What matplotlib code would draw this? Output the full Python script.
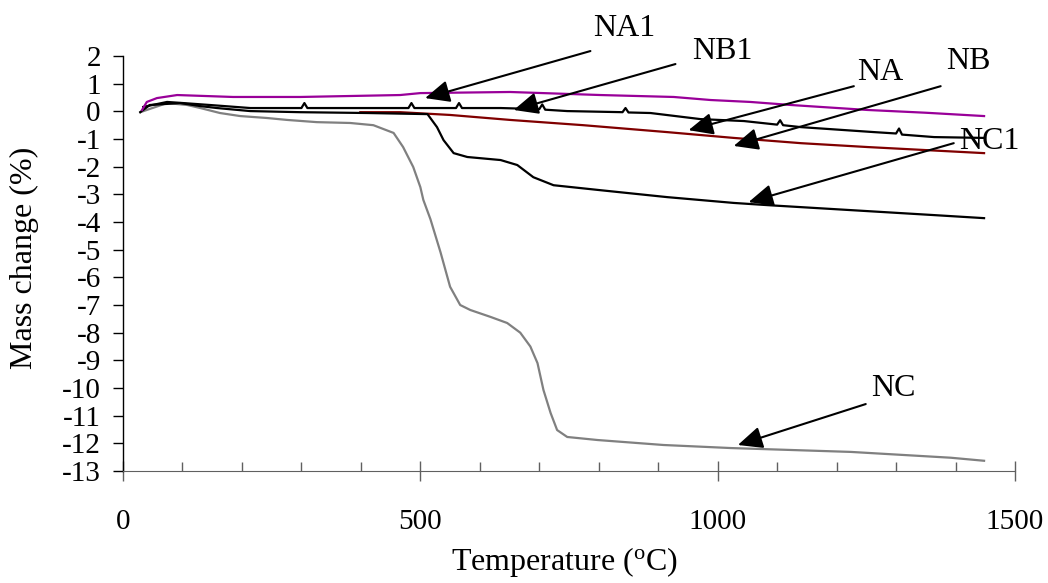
import numpy as np
import matplotlib.pyplot as plt
import matplotlib.ticker as ticker

plt.rcParams['font.family'] = ['Liberation Serif', 'DejaVu Serif']
plt.rcParams['axes.unicode_minus'] = False

# TG curves: temperature (C) vs mass change (%)
na1_t = [32, 40, 57, 91, 185, 298, 466, 500, 651, 803, 926, 988, 1055, 1123, 1173, 1252, 1350, 1448]
na1_m = [0.05, 0.34, 0.48, 0.59, 0.52, 0.52, 0.59, 0.66, 0.70, 0.59, 0.52, 0.41, 0.34, 0.23, 0.16, 0.05, -0.05, -0.17]

nb1_t = [34, 74, 101, 146, 214, 300, 305, 310, 411, 480, 485, 490, 560, 565, 570, 635, 700, 705, 710, 747,
         840, 845, 850, 887, 971, 1044, 1100, 1105, 1110, 1140, 1263, 1300, 1305, 1310, 1364, 1448]
nb1_m = [0.16, 0.34, 0.30, 0.23, 0.12, 0.12, 0.30, 0.12, 0.12, 0.12, 0.30, 0.12, 0.12, 0.30, 0.12, 0.12, 0.08, 0.25, 0.06, 0.01,
         -0.03, 0.12, -0.04, -0.06, -0.28, -0.35, -0.48, -0.32, -0.50, -0.57, -0.75, -0.80, -0.62, -0.84, -0.93, -0.96]

nb_t = [399, 466, 550, 651, 774, 915, 1027, 1140, 1252, 1448]
nb_m = [-0.03, -0.03, -0.13, -0.31, -0.50, -0.75, -0.96, -1.15, -1.29, -1.51]

nc1_t = [29, 45, 96, 130, 158, 214, 298, 411, 512, 528, 539, 556, 579, 635, 663, 690, 724, 803,
         915, 1027, 1084, 1224, 1364, 1448]
nc1_m = [-0.03, 0.23, 0.30, 0.19, 0.12, 0.01, -0.03, -0.06, -0.10, -0.57, -1.04, -1.51, -1.65, -1.76, -1.94, -2.38, -2.67, -2.85,
         -3.10, -3.31, -3.39, -3.57, -3.75, -3.86]

nc_t = [29, 74, 108, 130, 163, 197, 242, 276, 326, 382, 421, 455, 471, 488, 500, 505, 517, 534, 550, 567,
        584, 618, 646, 668, 685, 697, 707, 719, 730, 747, 798, 909, 1022, 1224, 1392, 1448]
nc_m = [-0.03, 0.30, 0.23, 0.12, -0.06, -0.17, -0.24, -0.31, -0.39, -0.42, -0.50, -0.78, -1.29, -2.01, -2.74, -3.2, -3.9, -5.1, -6.34, -7.0,
        -7.18, -7.43, -7.65, -8.0, -8.5, -9.1, -10.07, -10.9, -11.52, -11.77, -11.88, -12.06, -12.17, -12.31, -12.52, -12.63]

# annotation: label, text pos, arrow tail, arrow tip (data units)
labels = ['NA1', 'NB1', 'NA', 'NB', 'NC1', 'NC']
label_pos = [(843, 3.01), (1008, 2.18), (1274, 1.42), (1421, 1.82), (1456, -1.08), (1296, -10.0)]
arrow_tail = [(786, 2.18), (929, 1.71), (1229, 0.91), (1375, 0.91), (1397, -1.15), (1249, -10.58)]
arrow_tip = [(508, 0.48), (657, 0.05), (951, -0.68), (1027, -1.25), (1052, -3.28), (1034, -12.06)]

fig = plt.figure(figsize=(10.48, 5.83), dpi=100)
ax = fig.add_axes([0.1174, 0.1921, 0.8511, 0.7118])

ax.plot(nc_t, nc_m, color='#808080', lw=1.6)
ax.plot(nb_t, nb_m, color='#800000', lw=1.6)
ax.plot(nc1_t, nc1_m, color='black', lw=1.6)
ax.plot(nb1_t, nb1_m, color='black', lw=1.6)
ax.plot(na1_t, na1_m, color='#990099', lw=1.6)

for lab, tp, tail, tip in zip(labels, label_pos, arrow_tail, arrow_tip):
    ax.annotate('', xy=tip, xytext=tail, annotation_clip=False,
                arrowprops=dict(arrowstyle='-|>,head_length=1.0,head_width=0.45',
                                mutation_scale=15, color='black', lw=1.5,
                                shrinkA=0, shrinkB=0))
    ax.text(tp[0], tp[1], lab, fontsize=23, ha='center', va='center', clip_on=False)

ax.set_xlim(0, 1500)
ax.set_ylim(-13, 2)
ax.set_xticks([0, 500, 1000, 1500])
ax.xaxis.set_minor_locator(ticker.MultipleLocator(100))
ax.set_yticks(np.arange(-13, 3, 1))

ax.spines['top'].set_visible(False)
ax.spines['right'].set_visible(False)
ax.spines['bottom'].set_color('#606060')
ax.spines['left'].set_linewidth(1.0)

ax.tick_params(axis='x', which='major', direction='inout', length=14, width=1.0,
               color='#606060', labelsize=21, pad=20)
ax.tick_params(axis='x', which='minor', direction='in', length=6.5, width=1.0, color='#606060')
ax.tick_params(axis='y', direction='out', length=7, width=1.0, labelsize=21, pad=9)

fig.text(564 / 1048, 1 - 570 / 583, 'Temperature ($\\mathregular{^o}$C)',
         fontsize=23, ha='center', va='baseline')
fig.text(24 / 1048, 1 - 258 / 583, 'Mass change (%)', fontsize=23,
         rotation=90, ha='center', va='center')

fig.savefig('out.png', dpi=100)
